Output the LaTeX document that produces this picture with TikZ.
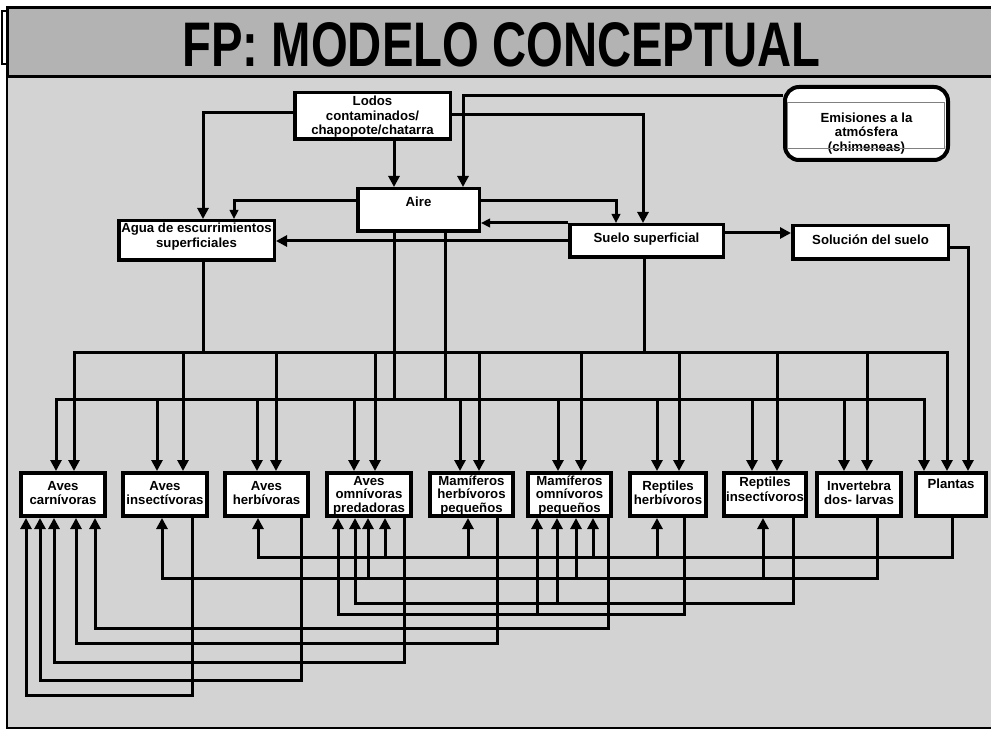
\documentclass[tikz,border=0pt]{standalone}
\usepackage{fontspec}
\setmainfont{Liberation Sans}
\usepackage{xcolor}
\usepackage{graphicx}
\usepackage{tikz}
\usetikzlibrary{arrows.meta}
\definecolor{titlegray}{HTML}{B3B3B3}
\definecolor{panelgray}{HTML}{D3D3D3}
\newcommand{\boxfont}{\fontsize{13.2}{14.5}\selectfont\bfseries}
\newcommand{\boxlines}[1]{\begin{tabular}[t]{@{}c@{}}#1\end{tabular}}

\begin{document}
\begin{tikzpicture}[
  x=1pt, y=-1pt,
  box/.style={rectangle, draw=black, fill=white, line width=3.5pt, inner sep=0pt, font=\boxfont},
  emisbox/.style={box, rounded corners=14pt, line width=4pt},
  bottombox/.style={box, line width=4pt, minimum height=43pt, minimum width=84pt},
  threelines/.style={font={\fontsize{13.2}{13.5}\selectfont\bfseries}, text height=10.95pt, text depth=29.55pt},
  line/.style={line width=3pt, black},
  arr/.style={line, -{Triangle[width=11pt, length=11pt]}},
  arrs/.style={line, -{Triangle[width=8.5pt, length=9pt]}},
  bus/.style={line, {Triangle[width=11pt, length=11pt]}-{Triangle[width=11pt, length=11pt]}},
]
  \useasboundingbox (0,0) rectangle (991,730);
  \draw[line width=2.5pt, fill=panelgray] (7,77) rectangle (995,728);
  \draw[line width=3pt, fill=titlegray] (7.5,7.5) rectangle (995,77);
  \draw[line width=2pt, fill=white] (1.5,11.5) rectangle (6.5,64.5);
  \node[font=\fontsize{63}{70}\selectfont\bfseries] (title) at (501.5,44.5) {\scalebox{0.75}[1]{FP: MODELO CONCEPTUAL}};

  \node[box, minimum width=155.5pt, minimum height=46.5pt, text height=11.65pt, text depth=31.85pt] (lodos) at (372.5,116) {\boxlines{Lodos\\contaminados/\\chapopote/chatarra}};
  \node[box, minimum width=121.5pt, minimum height=42.5pt, text depth=17pt] (aire) at (418.5,210) {\boxlines{Aire}};
  \node[box, minimum width=155.5pt, minimum height=39.5pt, text depth=26pt] (agua) at (196.5,240.5) {\boxlines{Agua de escurrimientos\\superficiales}};
  \node[box, minimum width=153.5pt, minimum height=32.5pt, text depth=7pt] (suelo) at (646.5,241) {\boxlines{Suelo superficial}};
  \node[box, minimum width=155.5pt, minimum height=33.5pt, text depth=6pt] (sol) at (870.5,242.5) {\boxlines{Solución del suelo}};
  \node[emisbox, minimum width=163pt, minimum height=73pt] (emis) at (866.5,123.5) {};
  \node[font=\boxfont] (emistxt) at (866.5,134) {\boxlines{Emisiones a la\\atmósfera\\(chimeneas)}};
  \draw[gray, line width=1pt] ([shift={(-79.5,-20.5)}]emis.center) rectangle ([shift={(77.5,25.5)}]emis.center);

  \node[bottombox] (avcar) at (63,494.5) {\boxlines{Aves\\carnívoras}};
  \node[bottombox] (avins) at (165,494.5) {\boxlines{Aves\\insectívoras}};
  \node[bottombox, minimum width=83pt] (avher) at (266.5,494.5) {\boxlines{Aves\\herbívoras}};
  \node[bottombox, threelines] (avomn) at (369,494.5) {\boxlines{Aves\\omnívoras\\predadoras}};
  \node[bottombox, threelines, minimum width=83pt] (mamher) at (471.5,494.5) {\boxlines{Mamíferos\\herbívoros\\pequeños}};
  \node[bottombox, threelines, minimum width=83pt] (mamomn) at (569.5,494.5) {\boxlines{Mamíferos\\omnívoros\\pequeños}};
  \node[bottombox, minimum width=76pt] (repher) at (668,494.5) {\boxlines{Reptiles\\herbívoros}};
  \node[bottombox, minimum width=82pt, text depth=25.5pt] (repins) at (765,494.5) {\boxlines{Reptiles\\insectívoros}};
  \node[bottombox] (invert) at (859,494.5) {\boxlines{Invertebra\\dos- larvas}};
  \node[bottombox, minimum width=70pt, text depth=22pt] (plantas) at (951,494.5) {\boxlines{Plantas}};

  \draw[arr] (lodos.west |- 0,113) -| (agua.north -| 203,0);
  \draw[arr] (lodos.south -| 394,0) -- (aire.north -| 394,0);
  \draw[arr] (emis.west |- 0,96) -| (aire.north -| 463,0);
  \draw[arr] (lodos.east |- 0,115) -| (suelo.north -| 643,0);
  \draw[arrs] (aire.west |- 0,201) -| (agua.north -| 234,0);
  \draw[arrs] (aire.east |- 0,201) -| (suelo.north -| 616,0);
  \draw[arrs] (suelo.north west) -- (aire.east |- suelo.north west);
  \draw[arr] (suelo.west) -- (agua.east |- suelo.west);
  \draw[arr] (suelo.east |- 0,233) -- (sol.west |- 0,233);
  \draw[arr] (sol.east |- 0,248) -| (plantas.north -| 968,0);

  \coordinate (upL) at (74,352);
  \coordinate (upR) at (947,352);
  \coordinate (loL) at (56,399);
  \coordinate (loR) at (924,399);
  \draw[line] (agua.south -| 203,0) -- (upL -| 203,0);
  \draw[line] (suelo.south -| 644,0) -- (upL -| 644,0);
  \draw[line] (aire.south -| 394,0) -- (loL -| 394,0);
  \draw[line] (aire.south -| 445,0) -- (loL -| 445,0);
  \draw[bus] (avcar.north -| upL) -- (upL) -- (upR) -- (plantas.north -| upR);
  \draw[bus] (avcar.north -| loL) -- (loL) -- (loR) -- (plantas.north -| loR);
  \foreach \n/\x in {avins/183, avher/276, avomn/375, mamher/479, mamomn/581, repher/679, repins/777, invert/867}
    \draw[arr] (upL -| \x,0) -- (\n.north -| \x,0);
  \foreach \n/\x in {avins/157, avher/257, avomn/354, mamher/460, mamomn/558, repher/657, repins/752, invert/844}
    \draw[arr] (loL -| \x,0) -- (\n.north -| \x,0);

  \foreach \s/\sx/\y/\t/\tx in {avins/192/695/avcar/26, avher/301/680/avcar/40, avomn/404/662/avcar/54,
      mamher/497/643/avcar/76, mamomn/608/628/avcar/95, repher/684/614/avomn/338,
      repins/793/603/avomn/355, invert/877/578/avins/162, plantas/952/557/avher/258}
    \draw[arr] (\s.south -| \sx,0) |- (\tx,\y) -- (\t.south -| \tx,0);
  \foreach \y/\x/\t in {557/385/avomn, 557/468/mamher, 557/593/mamomn, 557/657/repher,
      578/368/avomn, 578/576/mamomn, 578/763/repins, 603/557/mamomn, 614/537/mamomn}
    \draw[arr] (\x,\y) -- (\t.south -| \x,0);
\end{tikzpicture}
\end{document}
